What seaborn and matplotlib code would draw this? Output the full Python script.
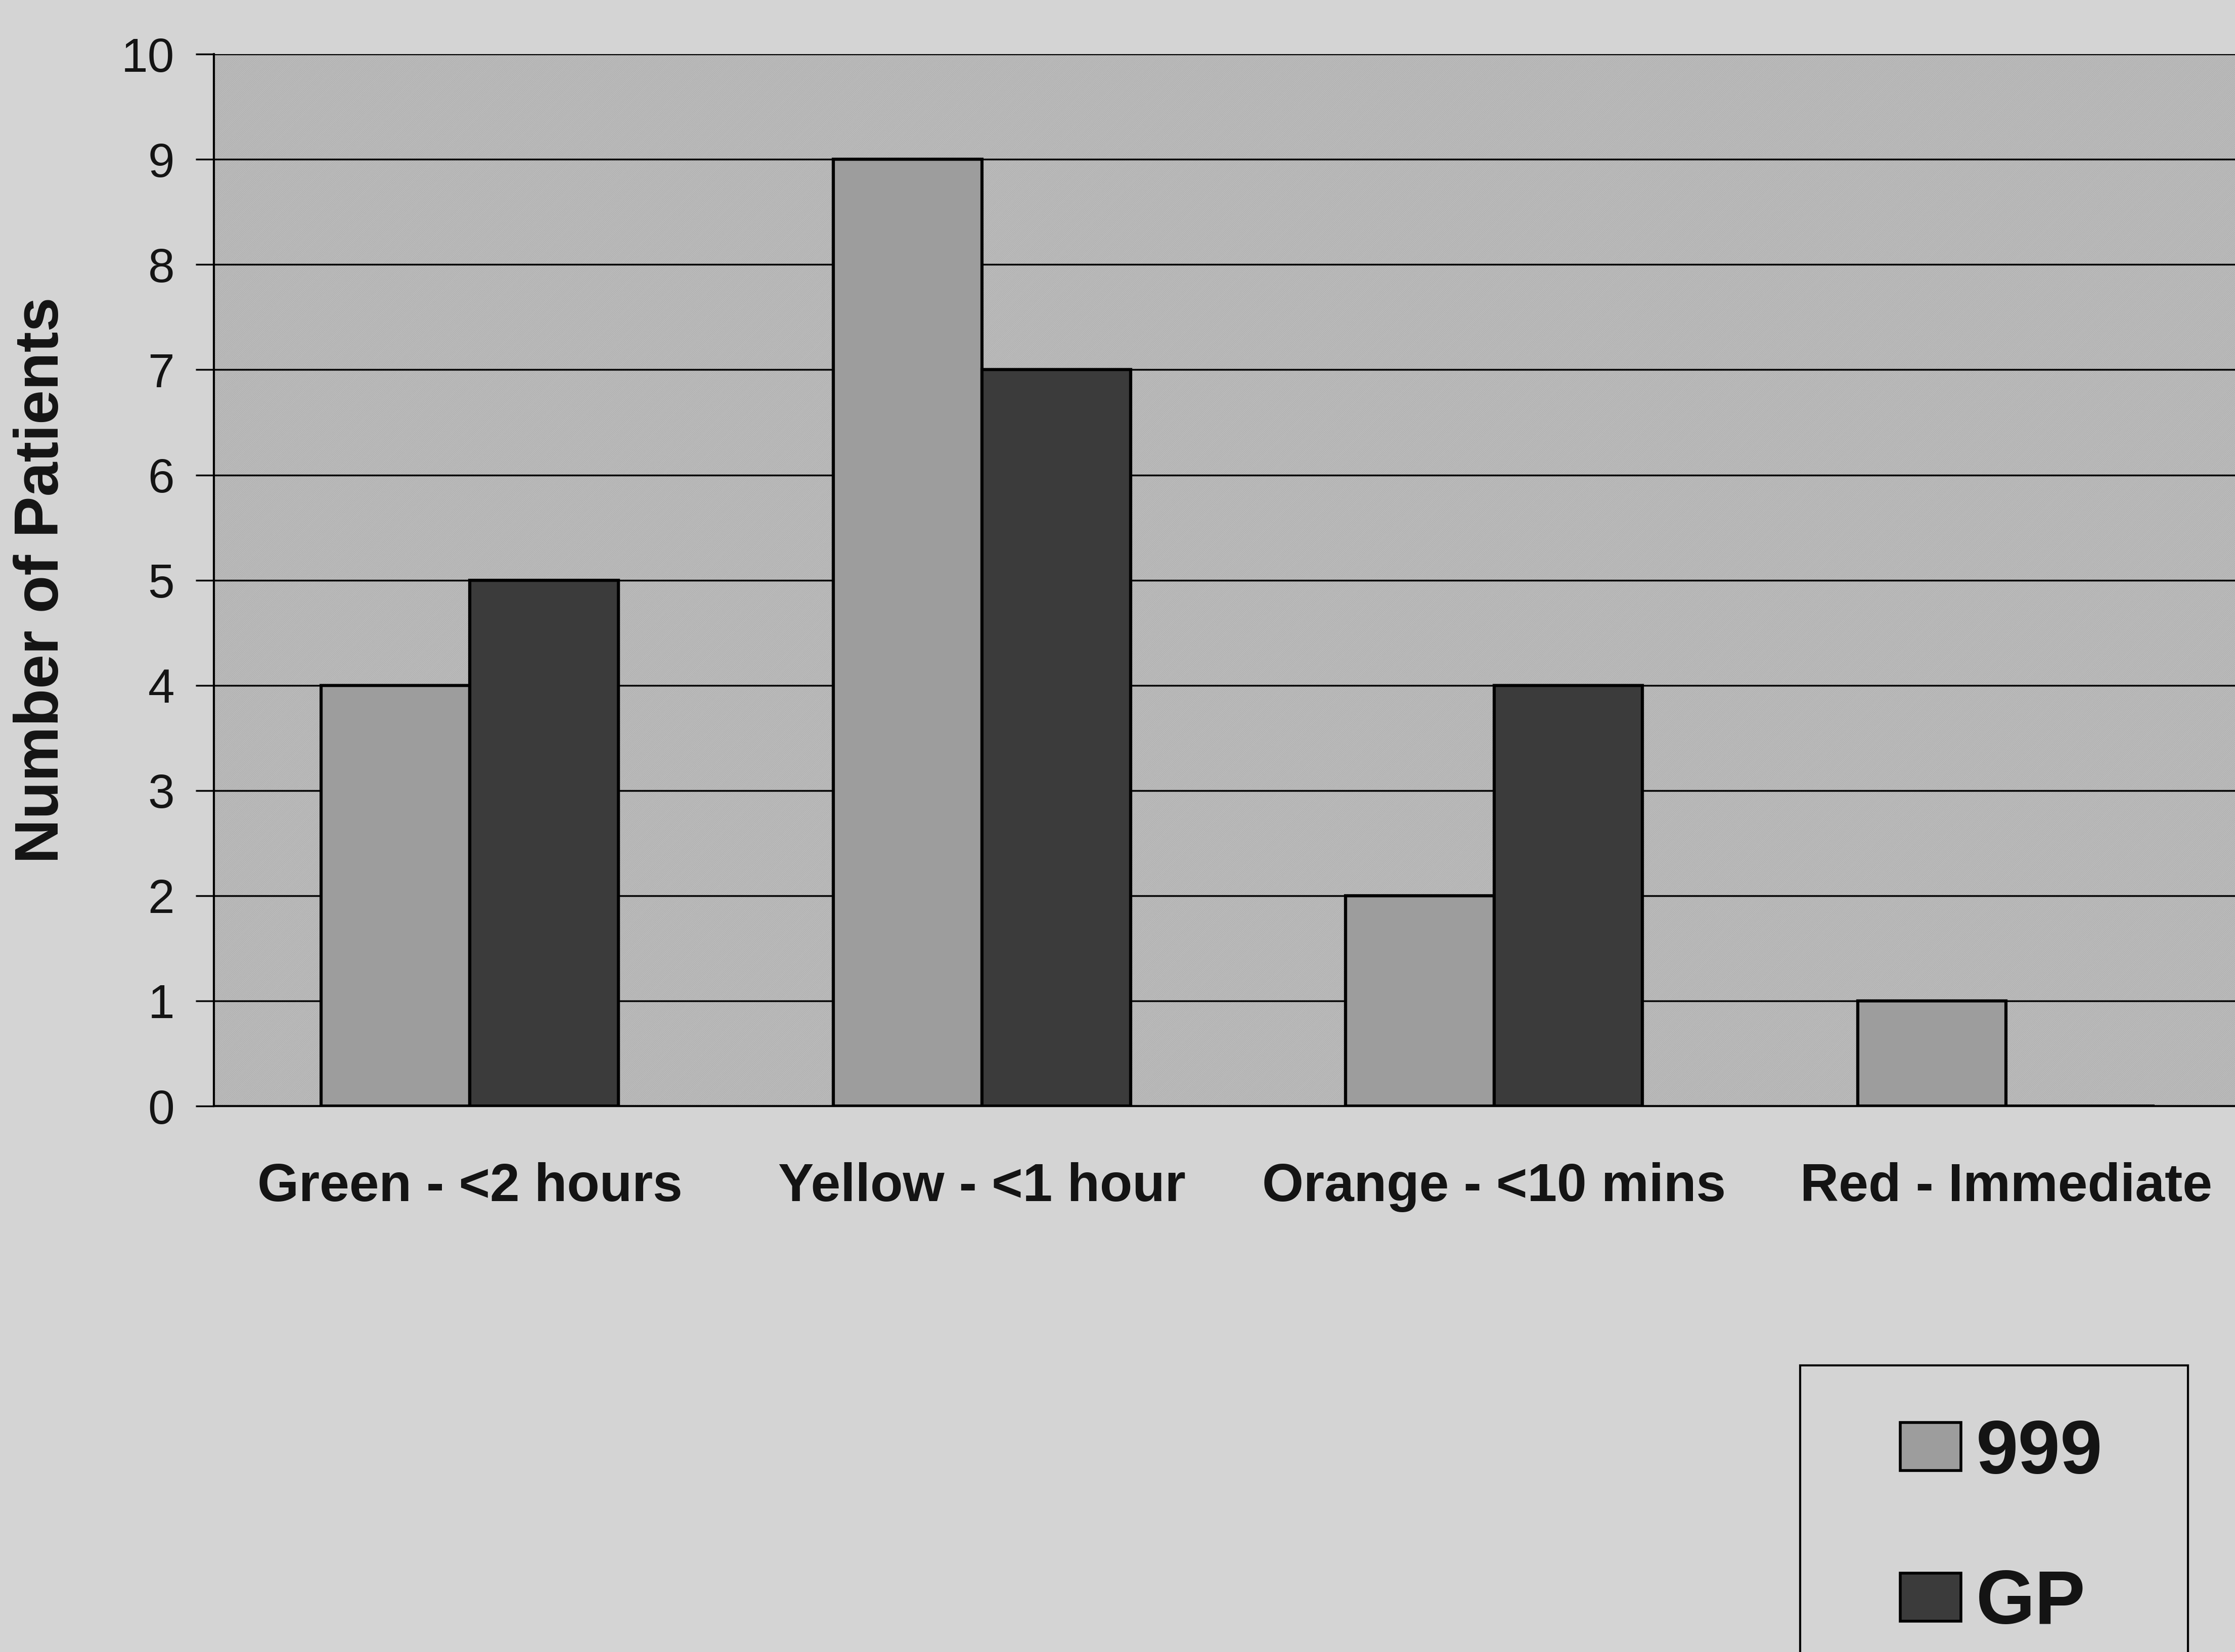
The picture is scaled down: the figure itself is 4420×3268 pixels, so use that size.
import matplotlib
matplotlib.use("Agg")
import matplotlib.pyplot as plt
import matplotlib.patches as mpatches
import seaborn as sns
import pandas as pd
import numpy as np

# ---- data ----
categories = ["Green - <2 hours", "Yellow - <1 hour", "Orange - <10 mins", "Red - Immediate"]
series_names = ["999", "GP"]
values_999 = [4, 9, 2, 1]
values_gp = [5, 7, 4, 0]
y_ticks = list(range(0, 11))

df = pd.DataFrame({
    "category": categories * 2,
    "source": [series_names[0]] * 4 + [series_names[1]] * 4,
    "patients": values_999 + values_gp,
})

sns.set_theme(style="white")
plt.rcParams["font.family"] = ["Liberation Sans", "DejaVu Sans"]
plt.rcParams["hatch.linewidth"] = 1.0
plt.rcParams["text.color"] = "#141414"
plt.rcParams["axes.labelcolor"] = "#141414"
plt.rcParams["xtick.color"] = "#141414"
plt.rcParams["ytick.color"] = "#141414"

FIG_BG = "#d4d4d4"
PLOT_BG = "#bcbcbc"
C999 = "#9d9d9d"
CGP = "#3b3b3b"

fig = plt.figure(figsize=(44.2, 32.68), dpi=100, facecolor=FIG_BG)
ax = fig.add_axes([150 / 1568, 1 - 776 / 1159, 1437 / 1568, (776 - 38) / 1159])
ax.set_facecolor(PLOT_BG)
ax.patch.set_hatch("////////")
ax.patch.set_edgecolor("#b2b2b2")
ax.patch.set_linewidth(0)

sns.barplot(data=df, x="category", y="patients", hue="source",
            palette=[C999, CGP], width=0.58, edgecolor="black", linewidth=4.5,
            saturation=1, ax=ax, legend=True, zorder=3)

ax.set_xlim(-0.5, 3.5)
ax.set_ylim(0, 10)
ax.set_yticks(y_ticks)
ax.set_yticklabels([str(t) for t in y_ticks], fontsize=68)
ax.yaxis.grid(True, color="black", linewidth=2.5, zorder=1)
ax.set_axisbelow(True)

ax.set_xticks(range(len(categories)))
ax.set_xticklabels(categories, fontsize=76, fontweight="bold")
ax.set_xticks(np.arange(-0.5, 3.0, 1.0), minor=True)
ax.tick_params(axis="x", which="major", length=0, pad=80)
ax.tick_params(axis="x", which="minor", direction="inout", length=36, width=2, color="black")
ax.tick_params(axis="y", which="major", direction="out", length=26, width=2.5, color="black", pad=30, left=True)

for s in ["top", "right"]:
    ax.spines[s].set_visible(False)
for s in ["left", "bottom"]:
    ax.spines[s].set_color("black")
    ax.spines[s].set_linewidth(3)

ax.set_xlabel("")
ax.set_ylabel("Number of Patients", fontsize=88, fontweight="bold")
ax.yaxis.set_label_coords(-0.0697, 0.5)

# legend
handles, labels = ax.get_legend_handles_labels()
ax.get_legend().remove()
leg = fig.legend(handles, labels, loc="upper left",
                 bbox_to_anchor=(1333 / 1568, 1 - 995 / 1159),
                 frameon=False, borderpad=0, borderaxespad=0,
                 prop={"size": 108, "weight": "bold", "family": ["Liberation Sans", "DejaVu Sans"]},
                 handlelength=0.8, handleheight=0.6, handletextpad=0.2, labelspacing=1.05)
for h in leg.legend_handles:
    h.set_edgecolor("black")
    h.set_linewidth(4)

frame = mpatches.Rectangle((1263 / 1568, -0.1), (1535 - 1263) / 1568, 0.1 + 1 - 958 / 1159,
                           transform=fig.transFigure, facecolor="none",
                           edgecolor="black", linewidth=3)
fig.patches.append(frame)

fig.savefig("out.png", dpi=100, facecolor=FIG_BG)
